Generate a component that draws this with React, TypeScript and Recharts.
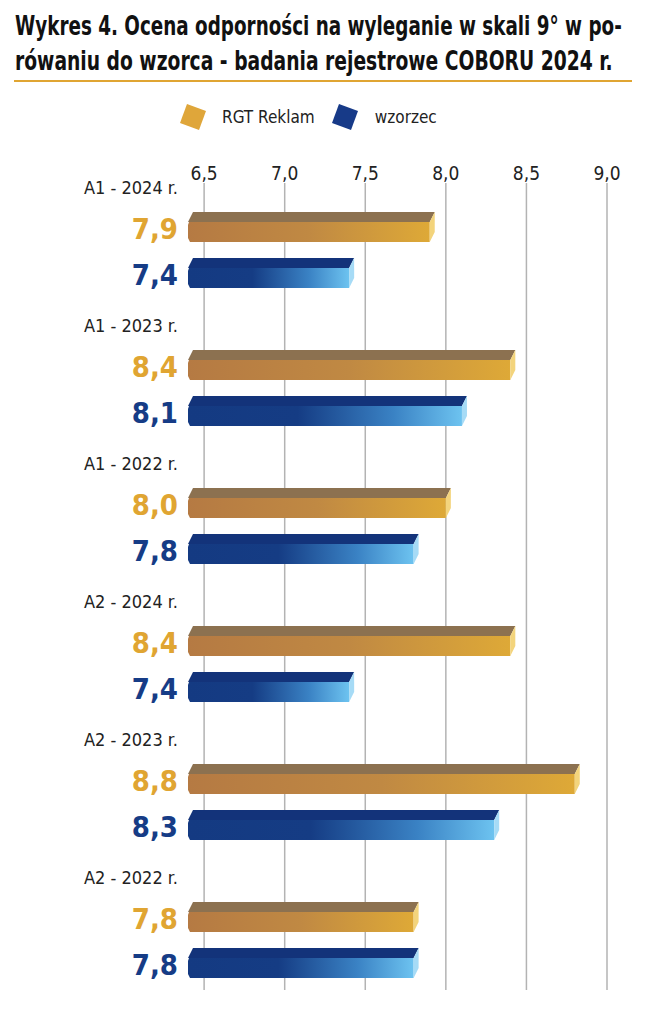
import { useLayoutEffect, useRef, useState } from 'react';
import { BarChart, Bar, XAxis, YAxis, CartesianGrid, LabelList } from 'recharts';

const groups = ['A1 - 2024 r.', 'A1 - 2023 r.', 'A1 - 2022 r.', 'A2 - 2024 r.', 'A2 - 2023 r.', 'A2 - 2022 r.'];
const rgtReklam = [7.9, 8.4, 8.0, 8.4, 8.8, 7.8];
const wzorzec = [7.4, 8.1, 7.8, 7.4, 8.3, 7.8];
const xTicks = [6.5, 7.0, 7.5, 8.0, 8.5, 9.0];
const seriesNames = ['RGT Reklam', 'wzorzec'];
const titleLines = [
  'Wykres 4. Ocena odporności na wyleganie w skali 9° w po-',
  'rówaniu do wzorca - badania rejestrowe COBORU 2024 r.',
];

const data = groups.map((g, i) => ({ group: g, rgt: rgtReklam[i], wz: wzorzec[i] }));

const FONT = '"DejaVu Sans Condensed", "Liberation Sans Narrow", sans-serif';
const fmt = (v: number) => v.toFixed(1).replace('.', ',');

const palette = {
  rgt: { top: '#8c7150', cap: '#f3d47c', label: '#e0a532', legend: '#dfa63a' },
  wz: { top: '#13337a', cap: '#a6dbf6', label: '#163c86', legend: '#173a88' },
};

// squeezes a title line horizontally to the width it has in the print
const FitText = ({ x, y, width, children }: { x: number; y: number; width: number; children: string }) => {
  const ref = useRef<SVGTextElement>(null);
  const [sx, setSx] = useState(1);
  useLayoutEffect(() => {
    if (ref.current) {
      const w = ref.current.getComputedTextLength();
      if (w > 0) setSx(width / w);
    }
  }, [width, children]);
  return (
    <g transform={`translate(${x},${y}) scale(${sx},1)`}>
      <text ref={ref} x={0} y={0} fontFamily={FONT} fontWeight="bold" fontSize={27} fill="#111">
        {children}
      </text>
    </g>
  );
};

const Bar3D = (props: any) => {
  const { x, y, width: w, height: h, kind } = props;
  const c = palette[kind as 'rgt' | 'wz'];
  const dx = 5;
  const dy = 10;
  return (
    <g>
      <polygon points={`${x},${y + dy} ${x + dx},${y} ${x + w + dx},${y} ${x + w},${y + dy}`} fill={c.top} />
      <polygon
        points={`${x + 1},${y + dy} ${x + w},${y + dy} ${x + w},${y + h} ${x + 2},${y + h} ${x},${y + h - 4} ${x},${y + dy + 3}`}
        fill={`url(#grad-${kind})`}
      />
      <polygon points={`${x + w},${y + dy} ${x + w + dx},${y} ${x + w + dx},${y + h - dy} ${x + w},${y + h}`} fill={c.cap} />
    </g>
  );
};

const ValueLabel = (kind: 'rgt' | 'wz') => (props: any) => {
  const { x, y, height, value } = props;
  return (
    <text x={x - 10} y={y + height - 3} textAnchor="end" fontFamily={FONT} fontWeight="bold" fontSize={29} fill={palette[kind].label}>
      {fmt(value)}
    </text>
  );
};

const XTick = (props: any) => {
  const { x, payload } = props;
  return (
    <text x={x} y={180} textAnchor="middle" fontFamily={FONT} fontSize={19} fill="#222">
      {fmt(payload.value)}
    </text>
  );
};

const YTick = (props: any) => {
  const { y, payload } = props;
  return (
    <text x={178} y={y - 56} textAnchor="end" fontFamily={FONT} fontSize={18} fill="#222">
      {payload.value}
    </text>
  );
};

const LegendMark = ({ color }: { color: string }) => (
  <svg width={28} height={28} style={{ display: 'block' }}>
    <polygon points="8,1 27,8 20,27 1,20" fill={color} />
  </svg>
);

export default function App() {
  return (
    <div style={{ position: 'absolute', left: 0, top: 0, width: 646, height: 1024, background: '#fff', fontFamily: FONT }}>
      <svg width={646} height={90} style={{ position: 'absolute', left: 0, top: 0 }}>
        <FitText x={15} y={35} width={607}>{titleLines[0]}</FitText>
        <FitText x={15} y={70} width={598}>{titleLines[1]}</FitText>
        <rect x={14} y={80} width={618} height={2} fill="#e0a532" />
      </svg>
      <div style={{ position: 'absolute', left: 179, top: 103, display: 'flex', alignItems: 'center', fontSize: 17, color: '#222' }}>
        <LegendMark color={palette.rgt.legend} />
        <span style={{ marginLeft: 15, marginRight: 16 }}>{seriesNames[0]}</span>
        <LegendMark color={palette.wz.legend} />
        <span style={{ marginLeft: 16 }}>{seriesNames[1]}</span>
      </div>
      <div style={{ position: 'absolute', left: 0, top: 0 }}>
        <BarChart
          width={646}
          height={1024}
          data={data}
          layout="vertical"
          margin={{ top: 151, right: 39, left: 8, bottom: 15 }}
          barSize={30}
          barGap={16}
        >
          <defs>
            <linearGradient id="grad-rgt" x1="0" y1="0" x2="1" y2="0">
              <stop offset="0" stopColor="#b57a43" />
              <stop offset="0.5" stopColor="#c08943" />
              <stop offset="1" stopColor="#dea937" />
            </linearGradient>
            <linearGradient id="grad-wz" x1="0" y1="0" x2="1" y2="0">
              <stop offset="0" stopColor="#143a82" />
              <stop offset="0.4" stopColor="#153c84" />
              <stop offset="0.75" stopColor="#3a82c4" />
              <stop offset="1" stopColor="#6dc3f0" />
            </linearGradient>
          </defs>
          <CartesianGrid
            horizontal={false}
            vertical={(p: any) =>
              p.x1 < 192 ? <g key={p.key} /> : (
                <line key={p.key} x1={p.x1} x2={p.x2} y1={183} y2={990} stroke="#b3b3b3" strokeWidth={1.5} />
              )
            }
          />
          <XAxis
            type="number"
            orientation="top"
            domain={[6.4, 9.0]}
            ticks={xTicks}
            height={30}
            axisLine={false}
            tickLine={false}
            tick={<XTick />}
            interval={0}
          />
          <YAxis type="category" dataKey="group" width={180} axisLine={false} tickLine={false} tick={<YTick />} />
          <Bar dataKey="rgt" name={seriesNames[0]} isAnimationActive={false} shape={(p: any) => <Bar3D {...p} kind="rgt" />}>
            <LabelList dataKey="rgt" content={ValueLabel('rgt')} />
          </Bar>
          <Bar dataKey="wz" name={seriesNames[1]} isAnimationActive={false} shape={(p: any) => <Bar3D {...p} kind="wz" />}>
            <LabelList dataKey="wz" content={ValueLabel('wz')} />
          </Bar>
        </BarChart>
      </div>
    </div>
  );
}
